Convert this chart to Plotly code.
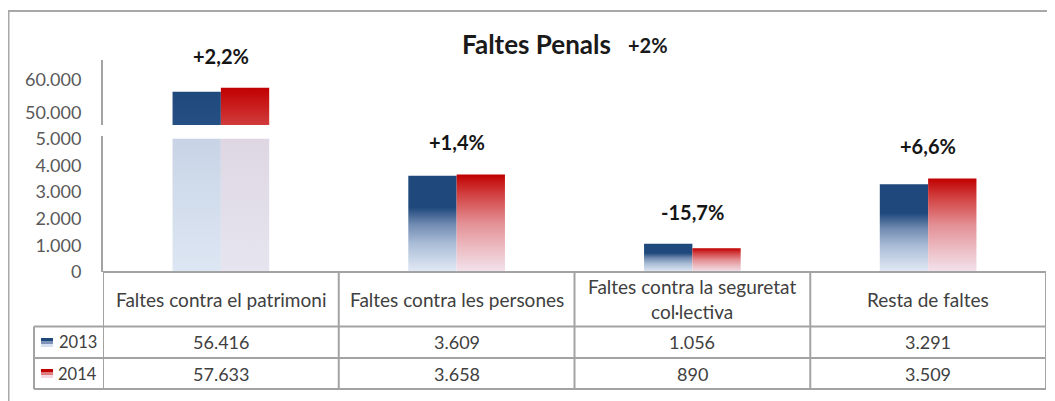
import plotly.graph_objects as go

# ---------------- data ----------------
categories = ["Faltes contra el patrimoni", "Faltes contra les persones",
              "Faltes contra la seguretat<br>col·lectiva", "Resta de faltes"]
years = ["2013", "2014"]
values_2013 = [56416, 3609, 1056, 3291]
values_2014 = [57633, 3658, 890, 3509]
change_labels = ["+2,2%", "+1,4%", "-15,7%", "+6,6%"]
title_text = "Faltes Penals"
total_change = "+2%"
upper_ticks = [50000, 60000]
lower_ticks = [0, 1000, 2000, 3000, 4000, 5000]

# ---------------- style / layout constants ----------------
OFF = 8                      # page body margin of the html page
W, H = 1055 - OFF, 401 - OFF
PLOT_L, PLOT_R, PLOT_T, PLOT_B = 103, 1046, 60, 272   # page pixels
ML, MR = PLOT_L - OFF, W - (PLOT_R - OFF)
MT, MB = PLOT_T - OFF, H - (PLOT_B - OFF)
PW, PH = W - ML - MR, H - MT - MB
BREAK_LOW = 5000
LOWER_RANGE = [0, 5100]
UPPER_RANGE = [46364, 66061]
LOWER_DOM = [0, (PLOT_B - 136) / PH]
UPPER_DOM = [(PLOT_B - 125) / PH, 1]
BAR_W = 0.205
FONT = "Lato"
GRID = "#a3a3a3"


def px_x(p):  # page pixel -> paper x
    return (p - PLOT_L) / PW


def px_y(p):  # page pixel -> paper y
    return (PLOT_B - p) / PH


def fmt(v):
    return f"{v:,}".replace(",", ".")


grad = {
    "2013": [[0, "#e3eaf6"], [0.3, "#a9bcd6"], [0.5, "#6f89b0"], [0.67, "#1f497d"], [1, "#1f497d"]],
    "2014": [[0, "#f3e3ec"], [0.25, "#ecbcc2"], [0.5, "#e39095"], [0.8, "#d24040"], [1, "#c00000"]],
}
solid = {
    "2013": [[0, "#264f84"], [1, "#1f497d"]],
    "2014": [[0, "#d23c3c"], [1, "#c00000"]],
}
pale = {
    "2013": [[0, "#dde6f3"], [1, "#c8d4e6"]],
    "2014": [[0, "#e6e5ef"], [1, "#ded7e3"]],
}

fig = go.Figure()


def add_bar(x0, x1, y0, y1, scale, yaxis):
    fig.add_trace(go.Scatter(
        x=[x0, x0, x1, x1, x0], y=[y0, y1, y1, y0, y0],
        mode="none", fill="toself",
        fillgradient=dict(type="vertical", colorscale=scale),
        yaxis=yaxis, showlegend=False, hoverinfo="skip"))


for s, (yr, vals) in enumerate(zip(years, [values_2013, values_2014])):
    for i, v in enumerate(vals):
        x0 = i - BAR_W if s == 0 else i
        x1 = i if s == 0 else i + BAR_W
        if v > BREAK_LOW:
            add_bar(x0, x1, UPPER_RANGE[0], v, solid[yr], "y2")
            add_bar(x0, x1, 0, BREAK_LOW, pale[yr], "y")
        else:
            add_bar(x0, x1, 0, v, grad[yr], "y")

annotations = []
# change labels above each group
for i, lab in enumerate(change_labels):
    top = max(values_2013[i], values_2014[i])
    annotations.append(dict(
        x=i, y=top, yref="y2" if top > BREAK_LOW else "y", xref="x",
        text=f"<b>{lab}</b>", showarrow=False, xanchor="center", yanchor="middle",
        yshift=32, font=dict(family=FONT, size=20, color="#151515")))

# title
annotations.append(dict(x=px_x(536.5), y=px_y(44), xref="paper", yref="paper",
                        text=f"<b>{title_text}</b>", showarrow=False,
                        xanchor="center", yanchor="middle",
                        font=dict(family=FONT, size=26, color="#1a1a1a")))
annotations.append(dict(x=px_x(648), y=px_y(45), xref="paper", yref="paper",
                        text=f"<b>{total_change}</b>", showarrow=False,
                        xanchor="center", yanchor="middle",
                        font=dict(family=FONT, size=20, color="#1a1a1a")))

# table text
row_y = [px_y(299), px_y(342), px_y(373.5)]
hfont = dict(family=FONT, size=19, color="#404040")
tfont = dict(family=FONT, size=18, color="#404040")
lfont = dict(family=FONT, size=16.5, color="#404040")
for i, c in enumerate(categories):
    annotations.append(dict(x=i, y=row_y[0], xref="x", yref="paper", text=c,
                            showarrow=False, xanchor="center", yanchor="middle",
                            font=hfont))
    annotations.append(dict(x=i, y=row_y[1], xref="x", yref="paper",
                            text=fmt(values_2013[i]), showarrow=False,
                            xanchor="center", yanchor="middle", font=tfont))
    annotations.append(dict(x=i, y=row_y[2], xref="x", yref="paper",
                            text=fmt(values_2014[i]), showarrow=False,
                            xanchor="center", yanchor="middle", font=tfont))
for k, yr in enumerate(years):
    annotations.append(dict(x=px_x(77.5), y=row_y[k + 1], xref="paper", yref="paper",
                            text=yr, showarrow=False, xanchor="center",
                            yanchor="middle", font=lfont))

shapes = []
line = dict(color=GRID, width=2)
# outer frame (left and top edges visible)
shapes.append(dict(type="rect", xref="paper", yref="paper",
                   x0=px_x(OFF + 0.5), x1=px_x(1080), y0=px_y(11), y1=px_y(430),
                   line=dict(color="#a8a8a8", width=2)))
# horizontal table lines
shapes.append(dict(type="line", xref="x", yref="paper", x0=-0.5, x1=3.5,
                   y0=px_y(272), y1=px_y(272), line=line))
for py in [326.5, 358, 389]:
    shapes.append(dict(type="line", xref="paper", yref="paper",
                       x0=px_x(34), x1=1.0, y0=px_y(py), y1=px_y(py), line=line))
# vertical table lines
for xv in [-0.5, 0.5, 1.5, 2.5, 3.5]:
    shapes.append(dict(type="line", xref="x", yref="paper", x0=xv, x1=xv,
                       y0=px_y(272), y1=px_y(389), line=line))
shapes.append(dict(type="line", xref="paper", yref="paper", x0=px_x(34), x1=px_x(34),
                   y0=px_y(326.5), y1=px_y(389), line=line))
# legend keys (banded to mimic the gradient)
key_cols = {"2013": ["#1f497d", "#7d94b8", "#d6e0ef"],
            "2014": ["#c00000", "#e07a7e", "#f2d9df"]}
for k, yr in enumerate(years):
    top = 338 + k * 31
    for j, col in enumerate(key_cols[yr]):
        shapes.append(dict(type="rect", xref="paper", yref="paper",
                           x0=px_x(41), x1=px_x(53),
                           y0=px_y(top + j * 3), y1=px_y(top + (j + 1) * 3),
                           fillcolor=col, line=dict(width=0)))

axis_common = dict(showgrid=False, zeroline=False, showline=True,
                   linecolor=GRID, linewidth=2, ticks="", ticklabelstandoff=16,
                   tickfont=dict(family=FONT, size=18, color="#595959"),
                   tickformat=",d", fixedrange=True)

fig.update_layout(
    width=W, height=H,
    margin=dict(l=ML, r=MR, t=MT, b=MB, autoexpand=False),
    paper_bgcolor="white", plot_bgcolor="white",
    separators=",.",
    showlegend=False,
    xaxis=dict(range=[-0.5, 3.5], visible=False, fixedrange=True),
    yaxis=dict(domain=LOWER_DOM, range=LOWER_RANGE, tickvals=lower_ticks, **axis_common),
    yaxis2=dict(domain=UPPER_DOM, range=UPPER_RANGE, tickvals=upper_ticks,
                anchor="x", **axis_common),
    annotations=annotations,
    shapes=shapes,
)

fig.write_html("out.html")
